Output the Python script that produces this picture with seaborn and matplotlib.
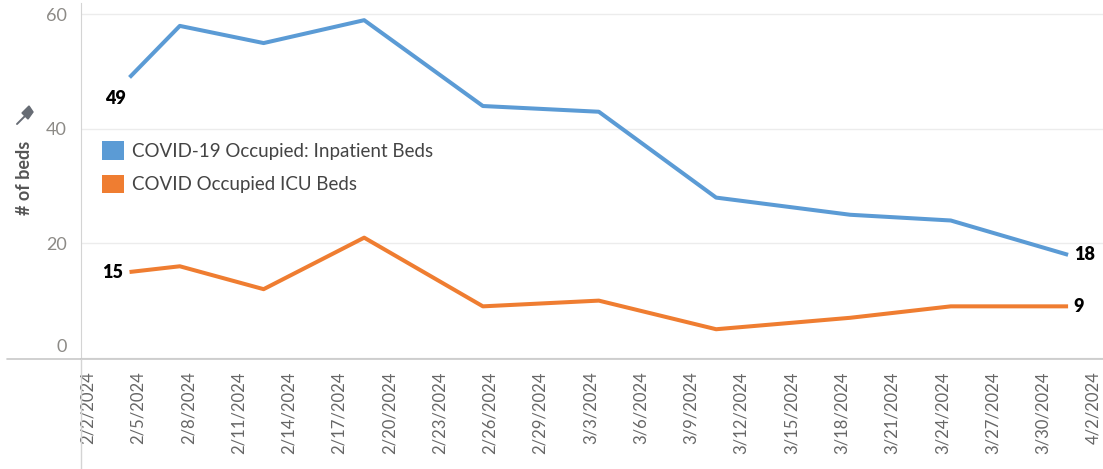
import numpy as np
import pandas as pd
import matplotlib
matplotlib.use("Agg")
import matplotlib.pyplot as plt
import matplotlib.dates as mdates
import matplotlib.transforms as mtransforms
from matplotlib.lines import Line2D
from matplotlib.patches import Patch, Polygon
import seaborn as sns

# -------------------------- data --------------------------
dates = ["2024-02-04 12:00", "2024-02-07 12:00", "2024-02-12 12:00", "2024-02-18 12:00",
         "2024-02-25 14:00", "2024-03-03 12:00", "2024-03-10 12:00", "2024-03-18 12:00",
         "2024-03-24 12:00", "2024-03-31 12:00"]
inpatient = [49, 58, 55, 59, 44, 43, 28, 25, 24, 18]
icu = [15, 16, 12, 21, 9, 10, 5, 7, 9, 9]

series_names = ["COVID-19 Occupied: Inpatient Beds", "COVID Occupied ICU Beds"]
colors = ["#5b9bd5", "#ef7d31"]

df = pd.DataFrame({
    "date": pd.to_datetime(dates * 2),
    "beds": inpatient + icu,
    "series": [series_names[0]] * len(dates) + [series_names[1]] * len(dates),
})

# -------------------------- style --------------------------
sns.set_style("white")
plt.rcParams["font.family"] = ["Lato", "DejaVu Sans"]

W, H = 1103, 469
fig = plt.figure(figsize=(W / 100, H / 100), dpi=100)
ax = fig.add_axes([81 / W, 1 - 359 / H, 1 - 81 / W, 356 / H])

sns.lineplot(data=df, x="date", y="beds", hue="series", palette=colors,
             linewidth=2.9, legend=False, ax=ax, solid_capstyle="butt")

ax.set_xlim(pd.Timestamp("2024-02-01 14:30"), pd.Timestamp("2024-04-02 14:00"))
ax.set_ylim(-0.2, 62)

# axes / ticks
ax.set_yticks([0, 20, 40, 60])
ax.yaxis.grid(True, color="#ececec", linewidth=1)
ax.xaxis.grid(False)
ax.tick_params(axis="y", length=0, pad=10, labelsize=13, labelcolor="#8c8a86")
# Tableau lifts the zero label off the axis line
zero_lab = ax.get_yticklabels()[0]
zero_lab.set_transform(zero_lab.get_transform() +
                       mtransforms.ScaledTranslation(0, 12 / 100, fig.dpi_scale_trans))

major = pd.date_range("2024-02-02", "2024-04-02", freq="3D")
ax.set_xticks(major)
ax.set_xticklabels([f"{d.month}/{d.day}/{d.year}" for d in major], rotation=90,
                   va="top", ha="center")
ax.xaxis.set_minor_locator(mdates.DayLocator())
ax.tick_params(axis="x", which="major", length=5, width=1, color="#d9d9d9",
               pad=4, labelsize=12, labelcolor="#666666")
ax.tick_params(axis="x", which="minor", length=3, width=0.8, color="#e6e6e6")

for s in ["top", "right"]:
    ax.spines[s].set_visible(False)
ax.spines["left"].set_color("#d4d4d4")
ax.spines["bottom"].set_color("#c8c8c8")
ax.spines["bottom"].set_linewidth(1.2)

# Tableau-like extended axis lines
fig.add_artist(Line2D([7 / W, 81 / W], [1 - 359 / H, 1 - 359 / H],
                      color="#c8c8c8", linewidth=1.2, transform=fig.transFigure))
fig.add_artist(Line2D([81 / W, 81 / W], [0, 1 - 359 / H],
                      color="#d4d4d4", linewidth=1, transform=fig.transFigure))

ax.set_xlabel("")
ax.set_ylabel("# of beds", fontsize=13, color="#555555", fontweight="bold")
ax.yaxis.set_label_coords(-0.047, 0.51)

# little pin next to the axis title (head up-right, needle down-left)
pin_col = "#676c74"
head = [(22, 113), (29, 106), (33, 112), (28, 119)]
fig.add_artist(Polygon([(x / W, 1 - y / H) for x, y in head], closed=True,
                       facecolor=pin_col, edgecolor=pin_col, transform=fig.transFigure))
fig.add_artist(Line2D([17 / W, 25 / W], [1 - 124 / H, 1 - 116 / H], color=pin_col,
                      linewidth=1.4, transform=fig.transFigure))

# end labels
d0 = pd.Timestamp(dates[0])
d1 = pd.Timestamp(dates[-1])
lab = dict(fontsize=13, fontweight="heavy", color="black")
ax.annotate(f"{inpatient[0]}", (d0, inpatient[0]), xytext=(-10, -15),
            textcoords="offset points", ha="center", va="center", **lab)
ax.annotate(f"{icu[0]}", (d0, icu[0]), xytext=(-5, 0),
            textcoords="offset points", ha="right", va="center", **lab)
ax.annotate(f"{inpatient[-1]}", (d1, inpatient[-1]), xytext=(4, 0),
            textcoords="offset points", ha="left", va="center", **lab)
ax.annotate(f"{icu[-1]}", (d1, icu[-1]), xytext=(4, 0),
            textcoords="offset points", ha="left", va="center", **lab)

# legend
handles = [Patch(facecolor=c, edgecolor="none") for c in colors]
ax.legend(handles, series_names, loc="upper left", bbox_to_anchor=(0.004, 0.66),
          frameon=False, fontsize=13.5, handlelength=1.15, handleheight=1.15,
          handletextpad=0.45, labelspacing=0.8, labelcolor="#444444")

fig.savefig("out.png", dpi=100)
